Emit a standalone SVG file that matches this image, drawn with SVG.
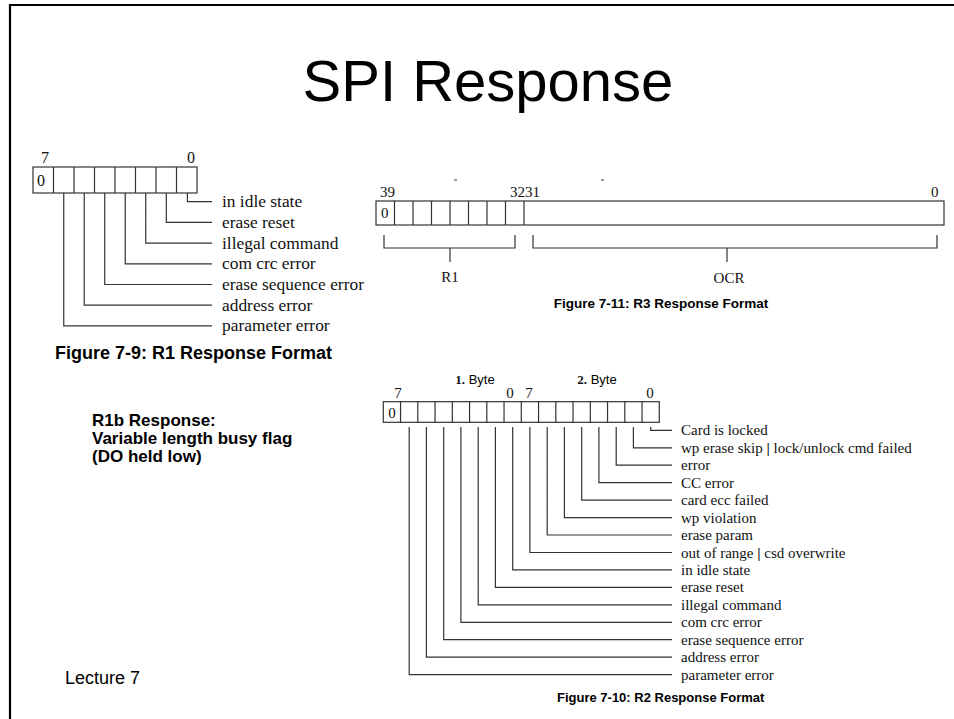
<svg xmlns="http://www.w3.org/2000/svg" width="954" height="719" viewBox="0 0 954 719">
<style>
.sans{font-family:"Liberation Sans",Arial,sans-serif;fill:#000}
.bold{font-weight:bold}
.serif{font-family:"Liberation Serif","Times New Roman",serif;fill:#111}
.box{fill:#fff;stroke:#333;stroke-width:1.2}
.ln{fill:none;stroke:#333;stroke-width:1.2}
.r1l{font-size:17.4px}
.r2l{font-size:15px}
</style>
<rect x="0" y="0" width="954" height="719" fill="#fff"/>
<path d="M954 5 H10 V719" fill="none" stroke="#000" stroke-width="2.2"/>
<text class="sans" x="488" y="101" font-size="58" text-anchor="middle">SPI Response</text>

<g id="r1">
<text class="serif" x="45" y="163" font-size="16" text-anchor="middle">7</text>
<text class="serif" x="191" y="163" font-size="16" text-anchor="middle">0</text>
<rect class="box" x="33" y="167" width="164" height="26"/>
<path class="ln" d="M53.5 167V193M74 167V193M94.5 167V193M115 167V193M135.5 167V193M156 167V193M176.5 167V193"/>
<text class="serif" x="41" y="186" font-size="16" text-anchor="middle">0</text>
</g>
<g id="r1-connectors">
<path class="ln" d="M187.4 193V201.7H212M166.3 193V222.4H212M145.75 193V243.1H212M125.25 193V263.8H212M104.75 193V284.5H212M84.25 193V305.2H212M63.75 193V325.9H212"/>
</g>
<g id="r1-labels" class="serif r1l">
<text x="222" y="207.2">in idle state</text>
<text x="222" y="227.9">erase reset</text>
<text x="222" y="248.6">illegal command</text>
<text x="222" y="269.3">com crc error</text>
<text x="222" y="290">erase sequence error</text>
<text x="222" y="310.7">address error</text>
<text x="222" y="331.4">parameter error</text>
</g>
<text class="sans bold" x="55" y="359" font-size="18">Figure 7-9: R1 Response Format</text>

<g id="r3">
<path class="ln" d="M454 180h3M601 180h3"/>
<text class="serif" x="380" y="197" font-size="15">39</text>
<text class="serif" x="510" y="197" font-size="15">3231</text>
<text class="serif" x="931" y="197" font-size="15">0</text>
<rect class="box" x="376" y="201" width="568" height="24"/>
<path class="ln" d="M394.5 201V225M413 201V225M431.5 201V225M450 201V225M468.5 201V225M487 201V225M505.5 201V225M524 201V225"/>
<text class="serif" x="381" y="218" font-size="15">0</text>
</g>
<g id="r3-brackets">
<path class="ln" d="M384 235V248H515V235M450 248V262M533 235V248H937V235M727 248V262"/>
</g>
<text class="serif" x="450" y="282" font-size="15" text-anchor="middle">R1</text>
<text class="serif" x="729" y="283" font-size="15" text-anchor="middle">OCR</text>
<text class="sans bold" x="661" y="308" font-size="13.5" text-anchor="middle">Figure 7-11: R3 Response Format</text>

<g id="r1b" class="sans bold" font-size="17">
<text x="92" y="426">R1b Response:</text>
<text x="92" y="444">Variable length busy flag</text>
<text x="92" y="462">(DO held low)</text>
</g>

<g id="r2">
<text x="475" y="384" font-size="13" text-anchor="middle"><tspan class="serif bold">1.</tspan><tspan class="sans"> Byte</tspan></text>
<text x="597" y="384" font-size="13" text-anchor="middle"><tspan class="serif bold">2.</tspan><tspan class="sans"> Byte</tspan></text>
<text class="serif" x="398" y="398" font-size="15" text-anchor="middle">7</text>
<text class="serif" x="510" y="398" font-size="15" text-anchor="middle">0</text>
<text class="serif" x="529" y="398" font-size="15" text-anchor="middle">7</text>
<text class="serif" x="650" y="398" font-size="15" text-anchor="middle">0</text>
<rect class="box" x="383.3" y="401.7" width="276" height="20.6"/>
<path class="ln" d="M400.55 401.7V422.3M417.8 401.7V422.3M435.05 401.7V422.3M452.3 401.7V422.3M469.55 401.7V422.3M486.8 401.7V422.3M504.05 401.7V422.3M521.3 401.7V422.3M538.55 401.7V422.3M555.8 401.7V422.3M573.05 401.7V422.3M590.3 401.7V422.3M607.55 401.7V422.3M624.8 401.7V422.3M642.05 401.7V422.3"/>
<text class="serif" x="391.9" y="418" font-size="15" text-anchor="middle">0</text>
</g>
<g id="r2-connectors">
<path class="ln" d="M650.7 427V430.3H672M633.4 427V447.8H672M616.2 427V465.2H672M598.9 427V482.7H672M581.7 427V500.1H672M564.4 427V517.6H672M547.2 427V535H672M529.9 427V552.5H672M512.7 427V569.9H672M495.4 427V587.4H672M478.2 427V604.8H672M460.9 427V622.3H672M443.7 427V639.7H672M426.4 427V657.2H672M409.2 427V674.7H672"/>
</g>
<g id="r2-labels" class="serif r2l">
<text x="681" y="435.3">Card is locked</text>
<text x="681" y="452.8">wp erase skip <tspan font-weight="bold">|</tspan> lock/unlock cmd failed</text>
<text x="681" y="470.2">error</text>
<text x="681" y="487.7">CC error</text>
<text x="681" y="505.1">card ecc failed</text>
<text x="681" y="522.6">wp violation</text>
<text x="681" y="540">erase param</text>
<text x="681" y="557.5">out of range <tspan font-weight="bold">|</tspan> csd overwrite</text>
<text x="681" y="574.9">in idle state</text>
<text x="681" y="592.4">erase reset</text>
<text x="681" y="609.8">illegal command</text>
<text x="681" y="627.3">com crc error</text>
<text x="681" y="644.7">erase sequence error</text>
<text x="681" y="662.2">address error</text>
<text x="681" y="679.7">parameter error</text>
</g>
<text class="sans bold" x="557" y="702" font-size="13">Figure 7-10: R2 Response Format</text>

<text class="sans" x="65" y="684" font-size="18">Lecture 7</text>
</svg>
